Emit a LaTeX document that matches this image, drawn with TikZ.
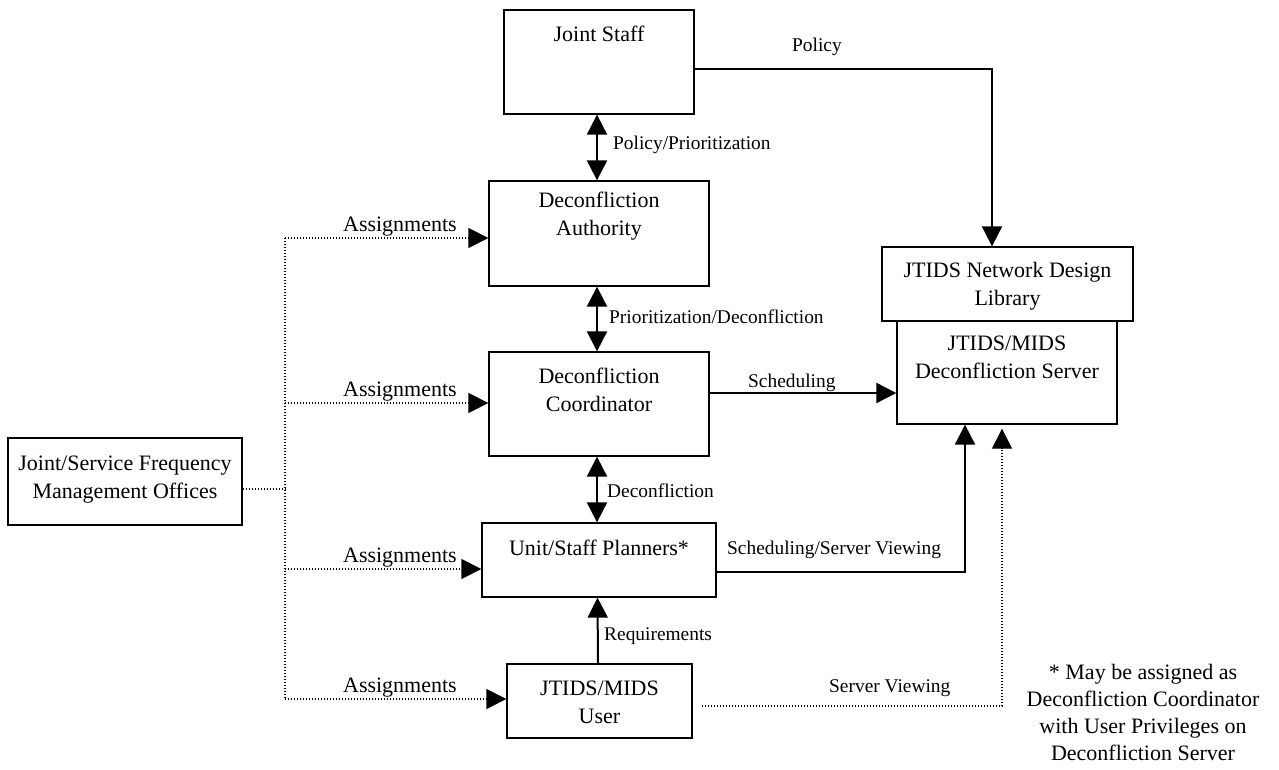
\documentclass[tikz,border=0pt]{standalone}
\usepackage{fontspec}
\setmainfont{Liberation Serif}
\usetikzlibrary{arrows.meta}
\usetikzlibrary{positioning}
\usetikzlibrary{calc}

\tikzset{
	box/.style={draw, line width=1.3pt, inner sep=0pt},
	boxtext/.style={font=\fontsize{22}{28}\selectfont, align=center, anchor=base, inner sep=0pt},
	lbl/.style={font=\fontsize{19.4}{23}\selectfont, anchor=base west, inner sep=0pt},
	asg/.style={font=\fontsize{22}{26}\selectfont, anchor=base east, inner sep=0pt},
	conn/.style={line width=2pt, -{Triangle[length=20pt,width=20pt]}},
	both/.style={line width=2pt, {Triangle[length=20pt,width=20pt]}-{Triangle[length=20pt,width=20pt]}},
	dots/.style={line width=1.3pt, dash pattern=on 1.3pt off 1.7pt},
}

\begin{document}
\begin{tikzpicture}[x=1pt,y=-1pt]
	\useasboundingbox (0,0) rectangle (1279,770);
	% Boxes (text nodes sit on the baseline of their last line)
	\node[box, minimum width=190pt, minimum height=104pt] (js) at (599,62) {};
	\node[boxtext] (js-t) at (599,42) {Joint Staff};
	\node[box, minimum width=220pt, minimum height=105pt] (da) at (599,233.5) {};
	\node[boxtext] (da-t) at (599,235) {Deconfliction\\Authority};
	\node[box, minimum width=220pt, minimum height=104pt] (dc) at (599,404) {};
	\node[boxtext] (dc-t) at (599,411) {Deconfliction\\Coordinator};
	\node[box, minimum width=234pt, minimum height=74pt] (usp) at (599,560) {};
	\node[boxtext] (usp-t) at (599,555) {Unit/Staff Planners*};
	\node[box, minimum width=185pt, minimum height=74pt] (user) at (599.5,701) {};
	\node[boxtext] (user-t) at (599.5,723) {JTIDS/MIDS\\User};
	\node[box, minimum width=251pt, minimum height=74pt] (lib) at (1007.5,284) {};
	\node[boxtext] (lib-t) at (1007.5,305) {JTIDS Network Design\\Library};
	\node[box, minimum width=220pt, minimum height=103pt] (srv) at (1007,372.5) {};
	\node[boxtext] (srv-t) at (1007,378) {JTIDS/MIDS\\Deconfliction Server};
	\node[box, minimum width=234pt, minimum height=87pt] (jsfmo) at (125,481.5) {};
	\node[boxtext] (jsfmo-t) at (125,498) {Joint/Service Frequency\\Management Offices};

	% Chain of command
	\draw[both] ([xshift=-2pt]js.south) -- ([xshift=-2pt]da.north);
	\draw[both] ([xshift=-2pt]da.south) -- ([xshift=-2pt]dc.north);
	\draw[both] ([xshift=-2pt]dc.south) -- ([xshift=-2pt]usp.north);
	\draw[conn] ([xshift=-1.5pt]user.north) -- ([xshift=-1.5pt]usp.south);
	\node[lbl] (l-pp) at (613,150) {Policy/Prioritization};
	\node[lbl] (l-pd) at (609,323) {Prioritization/Deconfliction};
	\node[lbl] (l-d) at (607,497) {Deconfliction};
	\node[lbl] (l-r) at (604,640) {Requirements};

	% Links to library and server
	\draw[conn] ([yshift=-7pt]js.east) -| ([xshift=-15.5pt]lib.north);
	\draw[conn] ([yshift=11pt]dc.east) -- ([yshift=11pt]dc.east -| srv.west);
	\draw[conn] ([yshift=-12pt]usp.east) -| ([xshift=-42pt]srv.south);
	\draw[dots, -{Triangle[length=20pt,width=20pt]}, shorten <=9pt, shorten >=4pt]
		([yshift=-5pt]user.east) -| ([xshift=-5pt]srv.south);
	\node[lbl] (l-p) at (792,52) {Policy};
	\node[lbl] (l-s) at (748,387) {Scheduling};
	\node[lbl] (l-ssv) at (727,554) {Scheduling/Server Viewing};
	\node[lbl] (l-sv) at (829,692) {Server Viewing};

	% Assignments
	\coordinate (bus) at (285,489);
	\coordinate (lblx) at (457,0);
	\draw[dots] ([yshift=-7.5pt]jsfmo.east) -- (bus);
	\draw[dots] ([yshift=-4.5pt]da.west -| bus) -- ([yshift=2pt]user.west -| bus);
	\foreach \n/\dy in {da/-4.5, dc/1, usp/-9, user/2} {
		\draw[dots, -{Triangle[length=20pt,width=20pt]}] ([yshift=\dy pt]\n.west -| bus) -- ([yshift=\dy pt]\n.west);
		\node[asg] (a-\n) at ([yshift=\dy pt+7pt]\n.west -| lblx) {Assignments};
	}

	% Footnote
	\node[boxtext, font=\fontsize{22}{26.7}\selectfont] (note) at (1143,760) {* May be assigned as\\Deconfliction Coordinator\\with User Privileges on\\Deconfliction Server};
\end{tikzpicture}
\end{document}
